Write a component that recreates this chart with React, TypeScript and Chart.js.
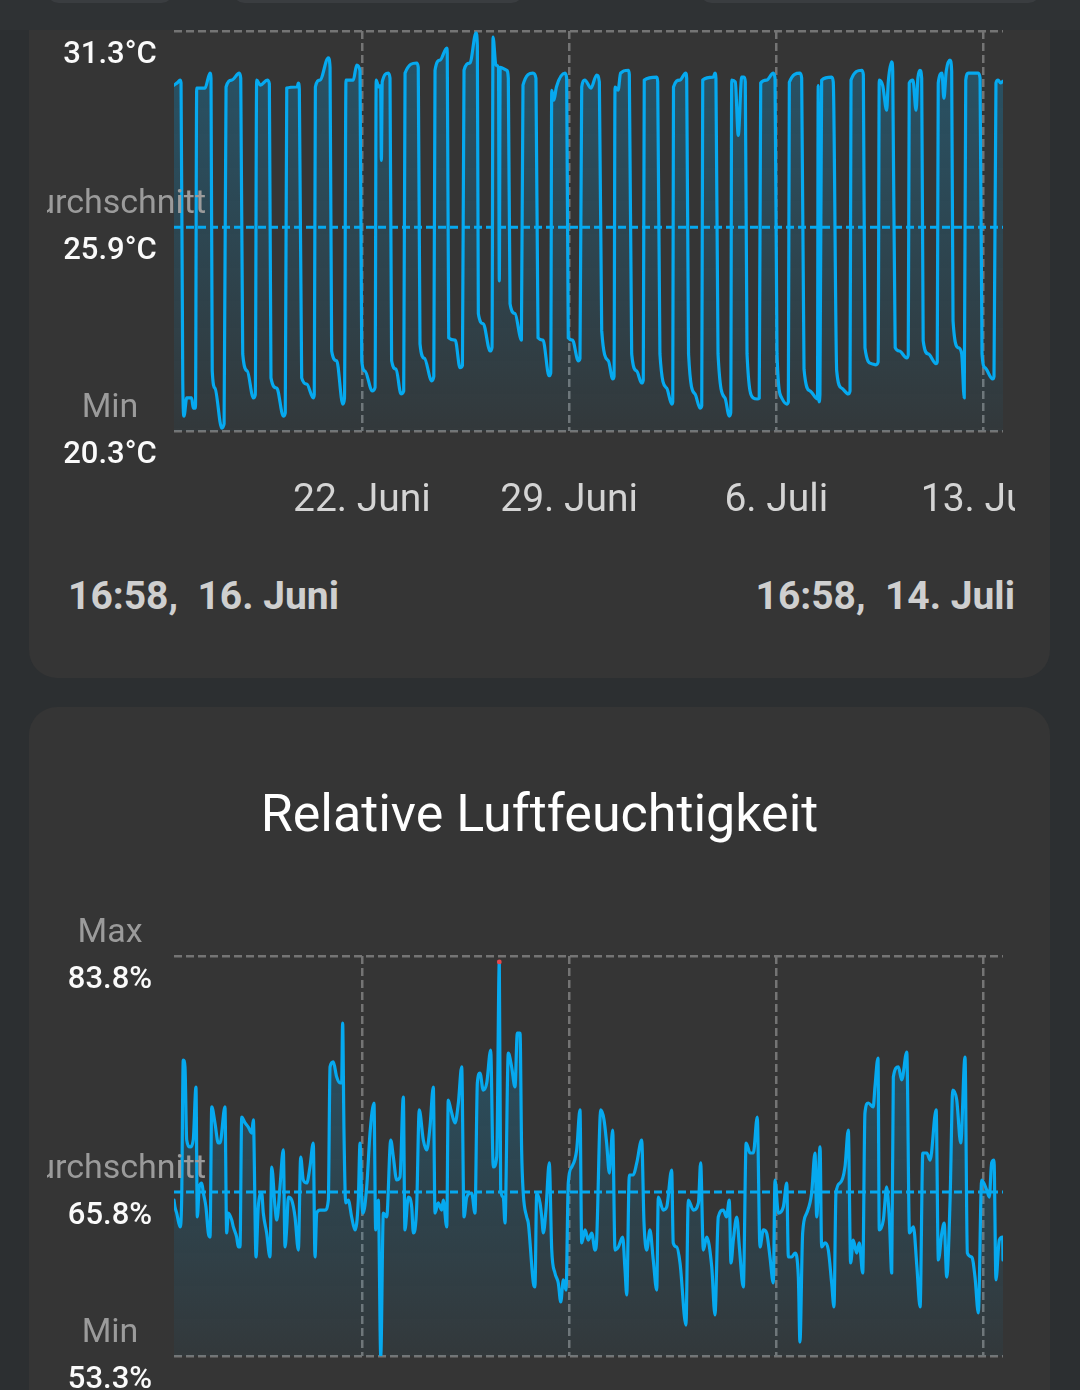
import React, { useEffect, useRef } from "react";
import { Chart, registerables } from "chart.js";

Chart.register(...registerables);
Chart.defaults.font.family = "Roboto";

// ---- axis / labels ----
const totalHours = 672; // 16. Juni 16:58 -> 14. Juli 16:58
const xTickHours = [152.3, 320.3, 488.3, 656.3];
const xTickLabels = ["22. Juni", "29. Juni", "6. Juli", "13. Juli"];
const rangeStart = "16:58,  16. Juni";
const rangeEnd = "16:58,  14. Juli";
const statNames = ["Max", "Durchschnitt", "Min"];
const humidityTitle = "Relative Luftfeuchtigkeit";

// ---- temperature (°C) ----
const tempStats = [31.3, 25.9, 20.3];
const tempHours = [
  0, 3.2, 4.9, 5.7, 7.1, 8.1, 10.3, 14.3, 15.6, 17.4,
  18.4, 25.1, 29.2, 30.0, 31.0, 33.2, 38.7, 40.6,
  42.2, 46.8, 52.9, 54.1, 55.7, 59.4, 64.3, 65.9,
  67.0, 70.0, 75.6, 77.3, 78.6, 83.3, 88.6, 90.2,
  91.4, 99.9, 100.8, 101.6, 103.5, 107.6, 112.9, 113.7,
  114.6, 118.3, 125.1, 126.5, 127.8, 131.9, 136.8, 138.2,
  139.4, 145.3, 148.1, 150.8, 152.2, 154.8, 160.7, 163.0,
  163.9, 166.0, 167.5, 168.1, 168.8, 173.7, 175.1, 176.4, 180.0, 184.0, 186.2,
  187.3, 196.7, 198.0, 199.4, 203.0, 208.9, 210.6,
  211.6, 215.6, 221.1, 221.5, 222.7, 228.0, 231.8, 233.8,
  235.1, 239.9, 244.8, 245.9, 246.7, 250.7, 256.2, 257.8,
  258.6, 261.0, 263.0, 263.7, 264.4, 269.7, 271.0, 272.4, 276.4, 280.5, 281.6,
  282.9, 291.0, 293.4, 295.1, 299.1, 304.0, 305.4,
  306.2, 308.0, 310.0, 317.0, 318.3, 319.6, 323.0, 327.7, 329.1,
  330.5, 333.0, 338.0, 342.6, 344.8, 346.7, 352.1, 355.6, 356.7,
  357.5, 360.0, 362.0, 368.3, 369.1, 371.0, 375.0, 379.1, 380.4,
  381.2, 391.3, 392.1, 393.9, 399.4, 403.4, 404.3,
  404.9, 410.0, 414.8, 415.6, 417.1, 422.3, 426.4, 427.8,
  428.6, 437.2, 438.5, 439.3, 441.0, 446.6, 450.1, 451.3,
  452.1, 455.0, 457.4, 460.2, 462.1, 463.1, 464.5, 469.6, 472.8, 474.4,
  475.6, 480.4, 485.8, 487.2, 488.8, 492.6, 496.7, 498.0,
  498.8, 507.5, 508.8, 510.7, 515.6, 521.6, 522.2, 522.8, 523.6,
  525.0, 533.1, 534.4, 537.2, 541.2, 546.6, 548.0,
  548.8, 557.5, 558.8, 560.1, 565.5, 569.0, 570.8,
  571.7, 574.5, 577.7, 579.0, 581.8, 582.6, 584.6, 588.0, 593.9, 595.2,
  596.0, 599.0, 601.5, 603.0, 604.7, 606.1, 607.3, 611.4, 617.7, 618.7,
  619.5, 622.5, 624.1, 626.0, 629.0, 630.4, 631.5, 635.8, 638.5, 640.6,
  641.8, 643.9, 652.0, 653.4, 655.0, 657.4, 663.6, 664.7,
  666.3, 668.0, 670.0, 672.0,
];
const tempValues = [
  29.81, 29.89, 29.95, 29.87, 21.68, 20.71, 21.21, 21.21, 20.93, 20.93,
  29.73, 29.73, 30.14, 30.0, 21.95, 21.48, 20.38, 20.5,
  29.76, 29.95, 30.14, 30.0, 22.42, 21.95, 21.21, 21.3,
  29.95, 29.81, 29.95, 29.85, 21.76, 21.48, 20.71, 20.8,
  29.73, 29.76, 29.87, 29.7, 21.76, 21.59, 21.21, 21.3,
  29.76, 29.95, 30.56, 30.3, 22.5, 22.23, 21.04, 21.2,
  29.95, 29.95, 30.36, 30.2, 22.23, 21.95, 21.4, 21.5,
  29.95, 29.76, 29.8, 27.74, 29.9, 30.14, 30.0, 22.23, 22.0, 21.32, 21.4,
  30.14, 30.42, 30.3, 22.7, 22.3, 21.68, 21.8,
  30.22, 30.5, 30.83, 30.7, 22.86, 22.8, 22.04, 22.1,
  30.22, 30.42, 31.25, 30.9, 23.53, 23.25, 22.5, 22.6,
  31.13, 30.36, 30.3, 24.43, 30.3, 30.22, 30.0, 23.8, 23.53, 22.9, 22.8,
  29.81, 30.14, 30.0, 22.86, 22.8, 21.82, 21.9,
  29.67, 29.4, 29.76, 30.14, 30.0, 22.86, 22.8, 22.23, 22.3,
  29.76, 29.95, 29.73, 30.09, 29.9, 23.06, 22.23, 21.73, 21.8,
  29.76, 29.67, 30.14, 30.22, 30.1, 22.42, 21.95, 21.62, 21.7,
  29.95, 30.03, 29.9, 22.42, 21.48, 21.04, 21.1,
  29.76, 29.95, 30.14, 30.0, 22.42, 21.32, 20.93, 21.0,
  29.95, 30.03, 30.14, 30.0, 22.42, 21.21, 20.71, 20.8,
  29.95, 29.9, 28.43, 30.03, 30.03, 29.9, 22.42, 21.21, 21.18, 21.2,
  29.87, 29.95, 30.14, 30.0, 22.42, 21.21, 21.04, 21.1,
  29.89, 30.14, 30.0, 22.0, 21.4, 21.18, 29.8, 21.1, 21.3,
  29.95, 30.03, 29.9, 21.95, 21.48, 21.32, 21.4,
  29.95, 30.22, 30.1, 22.59, 22.15, 22.12, 22.2,
  29.95, 29.8, 29.12, 29.9, 30.45, 30.2, 22.59, 22.5, 22.31, 22.4,
  29.87, 29.95, 29.12, 30.0, 30.22, 30.0, 22.78, 22.42, 22.15, 22.2,
  29.87, 30.14, 29.45, 30.2, 30.5, 30.2, 23.33, 22.59, 22.42, 21.21,
  29.95, 30.14, 30.14, 30.0, 22.42, 22.04, 21.73, 21.8,
  29.87, 29.95, 29.87, 29.92,
];

// ---- humidity (%) ----
const humStats = [83.8, 65.8, 53.3];
const humHours = [
  0, 0.8, 2.2, 4.9, 6.2, 7.5, 8.9, 10.3, 13.0, 15.6, 17.8, 18.9, 20.5, 22.5, 23.8, 25.9, 27.8, 29.2,
  30.6, 33.2, 35.9, 37.3, 41.3, 42.7, 44.0, 46.8, 48.1, 50.8, 52.1, 53.5, 54.9, 57.6, 60.2, 63.0, 64.3,
  66.5, 68.3, 71.1, 72.4, 75.1, 77.8, 79.2, 81.9, 83.3, 85.9, 88.6, 90.0, 91.4, 92.7, 95.4, 98.1, 100.8,
  102.7, 104.8, 107.6, 110.2, 112.9, 114.3, 115.7, 118.3, 122.4, 125.1, 126.5, 129.1, 131.9, 134.6, 135.9,
  136.7, 137.8, 139.2, 141.3, 144.0, 146.7, 149.4, 150.8, 152.2, 153.4, 156.2, 158.9, 162.1, 163.5, 165.6,
  167.6, 169.7, 172.4, 175.7, 177.8, 180.5, 183.2, 185.9, 187.2, 189.9, 192.7, 194.0, 196.7, 198.8, 202.1,
  204.8, 207.5, 210.2, 211.6, 214.2, 217.0, 218.3, 221.1, 222.3, 224.5, 227.8, 230.5, 233.2, 235.1, 237.3,
  241.3, 244.0, 245.9, 248.0, 250.7, 253.5, 256.7, 258.8, 261.6, 263.7, 264.8, 266.9, 268.3, 271.0, 273.7,
  276.4, 278.3, 280.5, 281.8, 283.1, 285.9, 287.2, 291.3, 292.6, 294.0, 296.7, 298.1, 299.4, 301.5, 304.2,
  306.2, 308.8, 311.5, 313.5, 315.6, 317.8, 319.6, 322.4, 326.4, 329.1, 330.5, 333.2, 335.8, 338.6, 341.3,
  342.6, 345.9, 348.6, 350.7, 352.9, 355.6, 357.5, 360.2, 363.7, 365.6, 367.0, 369.1, 372.3, 375.1, 379.1,
  381.0, 383.2, 385.8, 388.5, 391.3, 392.6, 396.6, 399.4, 403.4, 404.7, 407.5, 410.2, 415.0, 416.9, 421.0,
  425.1, 426.9, 429.1, 431.8, 435.9, 438.5, 441.2, 445.3, 447.9, 450.1, 451.5, 453.4, 456.2, 458.3, 461.5,
  463.8, 467.0, 469.6, 472.8, 475.0, 477.7, 480.4, 483.1, 485.8, 487.2, 489.9, 493.9, 496.7, 498.0, 500.7,
  503.4, 506.1, 507.4, 509.6, 512.9, 516.9, 519.6, 521.0, 523.7, 525.0, 527.7, 530.4, 533.1, 535.0, 536.6,
  539.9, 543.9, 546.6, 548.5, 550.6, 553.4, 555.5, 558.3, 560.1, 562.8, 566.8, 568.2, 570.7, 571.7, 575.0,
  577.7, 579.9, 581.8, 583.1, 587.2, 589.9, 594.0, 596.2, 599.4, 602.2, 604.8, 607.0, 610.3, 612.9, 617.8,
  619.6, 622.4, 624.3, 626.4, 629.1, 631.3, 634.5, 637.7, 641.2, 643.1, 646.7, 649.3, 652.0, 654.7, 658.8,
  660.9, 662.8, 664.7, 666.3, 669.0, 671.7, 672.0,
];
const humValues = [
  65.19, 64.66, 64.2, 63.14, 65.19, 75.87, 75.34, 69.77, 69.24, 69.77, 73.81, 63.9, 66.19, 66.49, 65.73, 64.66, 62.68, 62.37,
  72.29, 71.07, 69.54, 69.54, 72.29, 62.68, 64.2, 63.67, 63.14, 62.37, 61.61, 61.61, 71.52, 71.07, 70.76, 70.3, 71.3,
  60.85, 64.66, 65.73, 64.2, 62.68, 60.85, 67.71, 64.66, 63.67, 66.19, 69.01, 61.61, 63.14, 65.42, 65.19, 63.9, 61.38,
  68.47, 66.72, 66.49, 67.71, 69.54, 60.85, 64.2, 64.43, 64.43, 65.19, 75.34, 75.72, 74.57, 74.12, 74.12,
  78.69, 70.3, 64.97, 65.19, 63.9, 62.91, 65.19, 69.54, 65.19, 64.2, 66.19, 70.3, 72.59, 62.91, 65.19,
  53.3, 64.2, 63.9, 69.77, 68.47, 66.72, 66.95, 73.05, 62.91, 65.42, 64.66, 62.68, 64.66, 72.06, 69.77,
  69.01, 70.76, 73.81, 64.2, 64.97, 64.43, 65.19, 63.14, 72.82, 72.06, 71.07, 72.59, 75.34, 63.9, 65.42,
  65.73, 64.2, 74.12, 74.88, 73.58, 74.12, 76.63, 67.71, 68.47, 83.35, 65.96, 65.42, 63.44, 76.4, 75.34,
  73.81, 77.93, 77.93, 69.01, 65.73, 63.9, 63.44, 58.87, 58.56, 65.73, 64.97, 63.9, 62.68, 64.43, 68.02,
  61.38, 59.63, 58.87, 57.42, 59.1, 58.33, 66.49, 67.71, 69.01, 72.06, 61.92, 62.91, 62.14, 62.68, 61.38,
  62.14, 72.06, 71.3, 69.54, 67.25, 70.53, 61.38, 61.61, 62.37, 59.86, 57.95, 67.1, 67.1, 68.02, 69.77,
  63.44, 61.38, 62.91, 60.62, 58.33, 65.42, 64.43, 64.66, 67.48, 61.92, 61.61, 60.39, 55.66, 65.19, 64.43,
  64.97, 68.02, 61.38, 62.37, 60.09, 56.43, 63.9, 64.43, 63.9, 65.19, 60.39, 62.14, 63.9, 61.61, 58.56,
  69.54, 68.78, 68.78, 71.52, 61.61, 62.91, 62.68, 60.85, 58.87, 66.72, 64.2, 64.66, 66.49, 60.85, 60.85,
  61.15, 59.32, 54.37, 62.68, 64.2, 65.73, 68.78, 63.9, 69.24, 61.61, 61.92, 61.38, 58.87, 57.04, 65.73,
  66.49, 67.71, 70.53, 60.39, 62.14, 61.15, 61.92, 59.63, 71.83, 72.59, 72.29, 73.81, 76.02, 62.91, 63.67,
  66.19, 63.67, 59.63, 74.57, 75.34, 74.35, 76.48, 62.68, 63.14, 60.09, 57.04, 68.78, 68.78, 68.24, 72.06,
  60.62, 62.68, 63.44, 59.32, 65.19, 73.58, 72.82, 69.54, 76.1, 61.15, 60.85, 59.32, 56.58, 66.72, 65.96,
  65.42, 68.02, 68.24, 59.1, 62.14, 62.37, 60.62,
];

// ---- styling constants ----
const LINE = "#06a9ef";
const GRID = "#747474";
const CANVAS_W = 968;
const CANVAS_H = 530;

function fmt(v: number) {
  return v.toFixed(1);
}

function buildConfig(
  hours: number[],
  values: number[],
  stats: number[],
  unit: string,
  opts: { padTop: number; xHeight: number; showX: boolean; markMax: boolean }
): any {
  const data = hours.map((h, i) => ({ x: h, y: values[i] }));
  let maxIdx = 0;
  values.forEach((v, i) => {
    if (v > values[maxIdx]) maxIdx = i;
  });
  const labelPlugin = {
    id: "statLabels",
    afterDraw(chart: any) {
      const y = chart.scales.y;
      const c = chart.ctx;
      c.save();
      c.textAlign = "center";
      c.textBaseline = "alphabetic";
      stats.forEach((v, i) => {
        const py = y.getPixelForValue(v);
        c.font = "400 34px Roboto";
        c.fillStyle = "#9b9b9b";
        c.fillText(statNames[i], 63, py - 14);
        c.font = "500 31px Roboto";
        c.fillStyle = "#fafafa";
        c.fillText(fmt(v) + unit, 63, py + 32);
      });
      c.restore();
    },
  };
  const gridOpts = { color: GRID, lineWidth: 2.5, drawTicks: false };
  const borderOpts = { display: false, dash: [8, 4] };
  return {
    type: "line",
    data: {
      datasets: [
        {
          data: [
            { x: 0, y: stats[1] },
            { x: totalHours, y: stats[1] },
          ],
          borderColor: LINE,
          borderWidth: 3,
          borderDash: [8, 4],
          pointRadius: 0,
          fill: false,
        },
        {
          data,
          borderColor: LINE,
          borderWidth: 3.2,
          borderJoinStyle: "round",
          borderCapStyle: "round",
          cubicInterpolationMode: "monotone",
          pointRadius: (c: any) => (opts.markMax && c.dataIndex === maxIdx ? 2.4 : 0),
          pointBackgroundColor: "#e5484d",
          pointBorderWidth: 0,
          fill: "start",
          backgroundColor: (c: any) => {
            const a = c.chart.chartArea;
            if (!a) return "rgba(3,169,244,0.12)";
            const g = c.chart.ctx.createLinearGradient(0, a.top, 0, a.bottom);
            g.addColorStop(0, "rgba(3,169,244,0.27)");
            g.addColorStop(1, "rgba(3,169,244,0.035)");
            return g;
          },
        },
      ],
    },
    options: {
      animation: false,
      responsive: false,
      devicePixelRatio: 1,
      layout: { padding: { left: 127, right: 12, top: opts.padTop, bottom: 0 } },
      plugins: { legend: { display: false }, tooltip: { enabled: false } },
      scales: {
        x: {
          type: "linear",
          min: 0,
          max: totalHours,
          afterBuildTicks: (s: any) => {
            s.ticks = xTickHours.map((v) => ({ value: v }));
          },
          afterFit: (s: any) => {
            s.height = opts.xHeight;
            s.paddingLeft = 0;
            s.paddingRight = 0;
          },
          ticks: {
            display: opts.showX,
            autoSkip: false,
            maxRotation: 0,
            padding: 47,
            color: "#d4d4d4",
            font: { family: "Roboto", size: 39 },
            callback: (_v: any, i: number) => xTickLabels[i],
          },
          grid: gridOpts,
          border: borderOpts,
        },
        y: {
          min: stats[2],
          max: stats[0],
          afterBuildTicks: (s: any) => {
            s.ticks = [{ value: stats[2] }, { value: stats[0] }];
          },
          afterFit: (s: any) => {
            s.width = 0;
          },
          ticks: { display: false },
          grid: gridOpts,
          border: borderOpts,
        },
      },
    },
    plugins: [labelPlugin],
  };
}

function ChartCanvas({ build, left, top }: { build: () => any; left: number; top: number }) {
  const ref = useRef<HTMLCanvasElement | null>(null);
  useEffect(() => {
    if (!ref.current) return;
    const chart = new Chart(ref.current, build());
    return () => chart.destroy();
  }, []);
  return (
    <canvas
      ref={ref}
      width={CANVAS_W}
      height={CANVAS_H}
      style={{ position: "absolute", left, top, width: CANVAS_W, height: CANVAS_H, zIndex: 2 }}
    />
  );
}

export default function App() {
  const text = (extra: any) => ({
    position: "absolute" as const,
    fontFamily: "Roboto",
    whiteSpace: "pre" as const,
    margin: 0,
    ...extra,
  });
  return (
    <div
      style={{
        position: "absolute",
        left: 0,
        top: 0,
        width: 1080,
        height: 1390,
        overflow: "hidden",
        background: "#2c2f31",
        fontFamily: "Roboto",
      }}
    >
      {/* top card */}
      <div
        style={{
          position: "absolute",
          left: 29,
          top: -40,
          width: 1021,
          height: 718,
          background: "#353535",
          borderRadius: 28,
        }}
      />
      {/* bottom card */}
      <div
        style={{
          position: "absolute",
          left: 29,
          top: 707,
          width: 1021,
          height: 760,
          background: "#353535",
          borderRadius: 28,
        }}
      />
      {/* header strip */}
      <div
        style={{
          position: "absolute",
          left: 0,
          top: 0,
          width: 1080,
          height: 30,
          background: "#2f3234",
          zIndex: 5,
        }}
      >
        <div style={{ position: "absolute", left: 47, top: -20, width: 126, height: 23, background: "#3a3d40", borderRadius: 12 }} />
        <div style={{ position: "absolute", left: 233, top: -20, width: 290, height: 23, background: "#3a3d40", borderRadius: 12 }} />
        <div style={{ position: "absolute", left: 700, top: -20, width: 340, height: 23, background: "#3a3d40", borderRadius: 12 }} />
      </div>

      <ChartCanvas
        left={47}
        top={0}
        build={() =>
          buildConfig(tempHours, tempValues, tempStats, "°C", {
            padTop: 31,
            xHeight: 99,
            showX: true,
            markMax: false,
          })
        }
      />

      <div style={text({ left: 68, top: 577, fontSize: 39, lineHeight: "39px", fontWeight: 700, color: "#cfcfcf" })}>
        {rangeStart}
      </div>
      <div style={text({ right: 65, top: 577, fontSize: 39, lineHeight: "39px", fontWeight: 700, color: "#cfcfcf" })}>
        {rangeEnd}
      </div>

      <div
        style={text({
          left: 29,
          width: 1021,
          top: 788,
          textAlign: "center",
          fontSize: 52,
          lineHeight: "52px",
          color: "#ffffff",
        })}
      >
        {humidityTitle}
      </div>

      <ChartCanvas
        left={47}
        top={860}
        build={() =>
          buildConfig(humHours, humValues, humStats, "%", {
            padTop: 96,
            xHeight: 34,
            showX: false,
            markMax: true,
          })
        }
      />
    </div>
  );
}
